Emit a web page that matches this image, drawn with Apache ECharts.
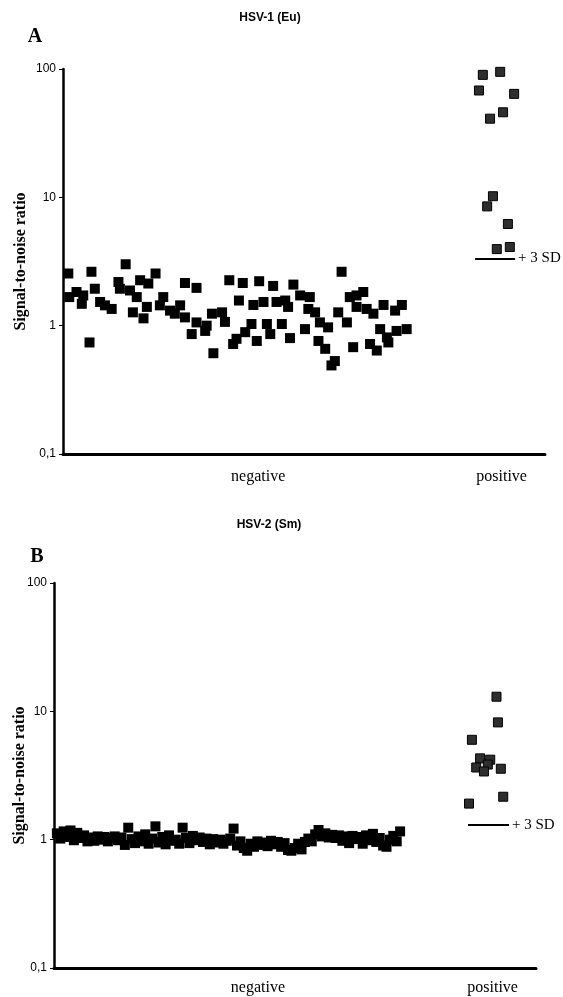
<!DOCTYPE html>
<html>
<head>
<meta charset="utf-8">
<script src="https://cdn.jsdelivr.net/npm/echarts@6/dist/echarts.min.js"></script>
<style>
  html, body { margin: 0; padding: 0; background: #fff; }
  #chart { width: 563px; height: 997px; }
</style>
</head>
<body>
<div id="chart"></div>
<script>
// x values are positions along the group axis (0..100), y values are signal-to-noise ratios
const groupLabels = ['negative', 'positive']
const aGroupAt = [40.5, 91]
const bGroupAt = [42.3, 91]
const yTicks = [0.1, 1, 10, 100]

// panel A: HSV-1 (Eu)
const aNegX = [1.1, 5.9, 13.0, 19.2, 1.3, 2.8, 4.2, 6.6, 3.9, 7.7, 8.7, 10.1, 11.5, 11.8, 13.9, 15.3,
  16.0, 17.7, 14.5, 16.7, 17.4, 20.1, 20.8, 22.2, 23.2, 24.3, 25.3, 27.7, 25.3, 26.7, 27.7, 29.5,
  29.8, 30.9, 33.0, 33.6, 31.2, 34.5, 36.5, 37.3, 35.3, 36.0, 37.8, 5.5, 40.7, 43.6, 47.8, 57.8,
  39.5, 41.6, 44.3, 46.1, 46.7, 49.2, 51.2, 50.9, 52.3, 53.3, 55.0, 57.1, 58.9, 59.5, 60.9, 62.3,
  60.9, 63.0, 64.4, 66.5, 68.9, 70.3, 39.1, 42.3, 43.0, 45.4, 40.2, 47.1, 50.2, 53.0, 54.4, 56.4,
  55.7, 60.2, 63.7, 65.1, 65.8, 67.2, 67.5, 69.2, 71.3]
const aNegY = [2.55, 2.63, 3.01, 2.55, 1.67, 1.83, 1.72, 1.94, 1.48, 1.53, 1.44, 1.35, 2.19, 1.94, 1.88, 1.67,
  2.26, 2.13, 1.27, 1.14, 1.40, 1.44, 1.67, 1.31, 1.24, 1.44, 2.15, 1.97, 1.16, 0.86, 1.06, 0.91,
  1.00, 1.24, 1.27, 1.07, 0.61, 2.26, 1.57, 2.15, 0.72, 0.79, 0.89, 0.74, 2.22, 2.04, 2.09, 2.63,
  1.45, 1.53, 1.53, 1.57, 1.40, 1.72, 1.67, 1.35, 1.27, 1.06, 0.97, 1.27, 1.06, 1.67, 1.72, 1.83,
  1.40, 1.35, 1.24, 1.45, 1.31, 1.45, 1.03, 1.03, 0.86, 1.03, 0.76, 0.80, 0.94, 0.76, 0.66, 0.53,
  0.49, 0.68, 0.72, 0.64, 0.94, 0.81, 0.74, 0.91, 0.94]
const aPosX = [87.1, 90.7, 86.3, 93.6, 91.3, 88.6, 89.2, 88.0, 92.3, 90.0, 92.7]
const aPosY = [90, 95, 68, 64, 46, 41, 10.2, 8.5, 6.2, 3.95, 4.1]
const aCutoff = 3.35
const aCutoffSpan = [85.5, 93.8]

// panel B: HSV-2 (Sm), negatives in sample order
const bNegY = [1.12, 1.02, 1.16, 1.05, 1.18, 0.99, 1.13, 1.03, 1.08, 0.97, 1.04, 0.98, 1.06, 1.00, 1.05, 0.97,
  1.03, 1.06, 0.99, 1.04, 0.91, 1.24, 1.01, 0.94, 1.06, 0.97, 1.10, 0.93, 1.02, 1.27, 0.95, 1.05,
  0.92, 1.08, 0.98, 1.00, 0.93, 1.24, 1.03, 0.94, 1.07, 0.99, 1.04, 0.96, 1.02, 0.92, 1.01, 0.95,
  1.00, 0.93, 0.98, 1.02, 1.22, 0.90, 0.97, 0.86, 0.82, 0.93, 0.88, 0.97, 0.91, 0.95, 0.89, 0.98,
  0.92, 0.96, 0.88, 0.94, 0.83, 0.82, 0.86, 0.93, 0.84, 0.96, 1.02, 0.97, 1.10, 1.19, 1.06, 1.12,
  1.04, 1.09, 1.03, 1.08, 0.98, 1.06, 0.94, 1.07, 1.01, 1.05, 0.93, 1.08, 0.99, 1.11, 0.96, 1.03,
  0.90, 0.88, 1.00, 1.07, 0.97, 1.16]
const bNegStart = 0.6
const bNegStep = 0.705
const bPosX = [91.8, 92.1, 86.7, 88.4, 90.5, 90.0, 87.6, 89.2, 92.7, 93.2, 86.1]
const bPosY = [13.0, 8.2, 6.0, 4.3, 4.2, 3.85, 3.65, 3.4, 3.57, 2.16, 1.91]
const bCutoff = 1.31
const bCutoffSpan = [85.9, 94.4]

const zip = (xs, ys) => xs.map((x, i) => [x, ys[i]])
const bNegX = bNegY.map((_, i) => bNegStart + i * bNegStep)

const serif = '"Liberation Serif", "Times New Roman", serif'
const sans = '"Liberation Sans", Arial, sans-serif'

function yAxis(gridIndex, nameGap) {
  return {
    type: 'log', logBase: 10, min: yTicks[0], max: yTicks[yTicks.length - 1], gridIndex,
    axisLine: { show: true, onZero: false, lineStyle: { color: '#000', width: 2.5 } },
    axisTick: { show: true, length: 4, lineStyle: { color: '#000', width: 1 } },
    splitLine: { show: false },
    axisLabel: {
      color: '#000', fontFamily: sans, fontSize: 12, margin: 7,
      formatter: v => (v < 0.5 ? '0,1' : String(Math.round(v)))
    },
    name: 'Signal-to-noise ratio', nameLocation: 'middle', nameGap, nameMoveOverlap: false,
    nameTextStyle: { color: '#000', fontFamily: serif, fontWeight: 'bold', fontSize: 16 }
  }
}

function xAxis(gridIndex, at, margin) {
  return {
    type: 'value', min: 0, max: 100, gridIndex,
    axisLine: { show: true, onZero: false, lineStyle: { color: '#000', width: 3 } },
    axisTick: { show: false },
    splitLine: { show: false },
    axisLabel: {
      customValues: at, color: '#000', fontFamily: serif, fontSize: 16, margin,
      formatter: v => groupLabels[at.indexOf(v)] || ''
    }
  }
}

function cutoffLine(value, span) {
  return {
    silent: true, symbol: ['none', 'none'],
    lineStyle: { color: '#000', width: 2, type: 'solid' },
    label: { show: true, position: 'end', formatter: '+ 3 SD', color: '#000', fontFamily: serif, fontSize: 15, distance: 3 },
    data: [[{ coord: [span[0], value] }, { coord: [span[1], value] }]]
  }
}

const negStyle = { color: '#000', opacity: 1 }
const posStyle = { color: '#2e2e2e', borderColor: '#000', borderWidth: 1, opacity: 1 }

const chart = echarts.init(document.getElementById('chart'))
chart.setOption({
  animation: false,
  backgroundColor: '#fff',
  grid: [
    { left: 63, top: 69, width: 482, height: 385, outerBoundsMode: 'none' },
    { left: 54, top: 583, width: 482, height: 385, outerBoundsMode: 'none' }
  ],
  xAxis: [xAxis(0, aGroupAt, 15), xAxis(1, bGroupAt, 12)],
  yAxis: [yAxis(0, 34), yAxis(1, 26)],
  graphic: [
    { type: 'text', x: 270, y: 18, style: { text: 'HSV-1 (Eu)', align: 'center', verticalAlign: 'middle', font: 'bold 12px ' + sans, fill: '#000' } },
    { type: 'text', x: 35, y: 37, style: { text: 'A', align: 'center', verticalAlign: 'middle', font: 'bold 20px ' + serif, fill: '#000' } },
    { type: 'text', x: 269, y: 525, style: { text: 'HSV-2 (Sm)', align: 'center', verticalAlign: 'middle', font: 'bold 12px ' + sans, fill: '#000' } },
    { type: 'text', x: 37, y: 557, style: { text: 'B', align: 'center', verticalAlign: 'middle', font: 'bold 20px ' + serif, fill: '#000' } }
  ],
  series: [
    { type: 'scatter', xAxisIndex: 0, yAxisIndex: 0, symbol: 'rect', symbolSize: 10, itemStyle: negStyle, data: zip(aNegX, aNegY) },
    { type: 'scatter', xAxisIndex: 0, yAxisIndex: 0, symbol: 'rect', symbolSize: 9, itemStyle: posStyle, data: zip(aPosX, aPosY),
      markLine: cutoffLine(aCutoff, aCutoffSpan) },
    { type: 'scatter', xAxisIndex: 1, yAxisIndex: 1, symbol: 'rect', symbolSize: 10, itemStyle: negStyle, data: zip(bNegX, bNegY) },
    { type: 'scatter', xAxisIndex: 1, yAxisIndex: 1, symbol: 'rect', symbolSize: 9, itemStyle: posStyle, data: zip(bPosX, bPosY),
      markLine: cutoffLine(bCutoff, bCutoffSpan) }
  ]
})
</script>
</body>
</html>
